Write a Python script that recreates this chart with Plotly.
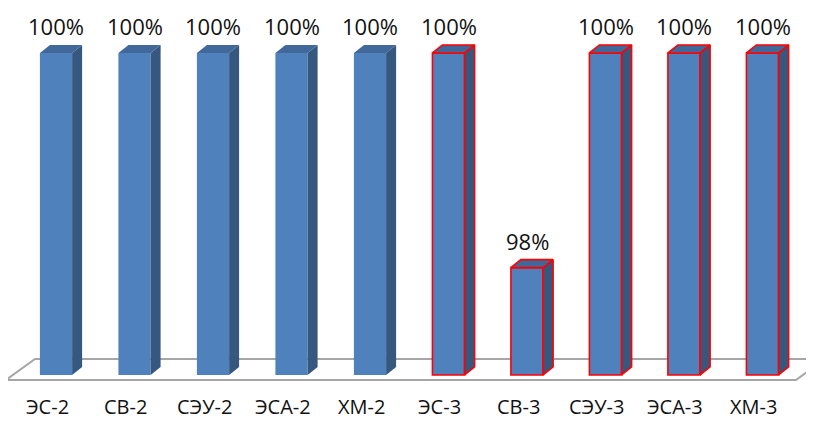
import plotly.graph_objects as go

# dados
categories = ["ЭС-2", "СВ-2", "СЭУ-2", "ЭСА-2", "ХМ-2", "ЭС-3", "СВ-3", "СЭУ-3", "ЭСА-3", "ХМ-3"]
values = [100, 100, 100, 100, 100, 100, 98, 100, 100, 100]
labels = ["100%", "100%", "100%", "100%", "100%", "100%", "98%", "100%", "100%", "100%"]
outlined = [False, False, False, False, False, True, True, True, True, True]

# a página tem margem de 8px no body
W, H = 806, 413
OFF = 8
BASE = 97.0
X_RANGE = [-0.6115, 9.656]
Y_RANGE = [96.571, 100.419]

# escala px -> unidades
ux = (X_RANGE[1] - X_RANGE[0]) / W
uy = (Y_RANGE[1] - Y_RANGE[0]) / H
DX = 10 * ux   # profundidade 3D
DY = 8 * uy
HALF = 0.205

FRONT = "#4F81BD"
SIDE = "#36587F"
TOP = "#41689B"


def px(x, y):
    return (x - OFF) / W, 1 - (y - OFF) / H


fig = go.Figure()

# piso (plano 3D)
pts = [px(6, 380), px(796, 380), px(825, 359), px(35, 359)]
fig.add_shape(type="path", xref="paper", yref="paper",
              path="M " + " L ".join("%f,%f" % p for p in pts) + " Z",
              line=dict(color="#A6A6A6", width=2), fillcolor="white", layer="below")

# frente das barras
fig.add_trace(go.Bar(
    x=list(range(len(values))), y=[v - BASE for v in values], base=BASE,
    width=2 * HALF,
    marker=dict(color=FRONT,
                line=dict(color=["#FF0000" if o else FRONT for o in outlined],
                          width=[1.6 if o else 0 for o in outlined])),
    hoverinfo="skip"))

# faces laterais e topo
for i, (v, o) in enumerate(zip(values, outlined)):
    xl, xr = i - HALF, i + HALF
    line = dict(color="#FF0000", width=1.6) if o else dict(width=0, color=SIDE)
    fig.add_trace(go.Scatter(
        x=[xr, xr + DX, xr + DX, xr, xr], y=[BASE, BASE + DY, v + DY, v, BASE],
        fill="toself", fillcolor=SIDE, mode="lines", line=line, hoverinfo="skip"))
    line = dict(color="#FF0000", width=1.6) if o else dict(width=0, color=TOP)
    fig.add_trace(go.Scatter(
        x=[xl, xl + DX, xr + DX, xr, xl], y=[v, v + DY, v + DY, v, v],
        fill="toself", fillcolor=TOP, mode="lines", line=line, hoverinfo="skip"))

# rótulos de dados
for i, (v, t) in enumerate(zip(values, labels)):
    fig.add_annotation(x=i, y=v, text=t, showarrow=False, yanchor="middle", yshift=27,
                       font=dict(family="Open Sans", size=22, color="#111111"))

# rótulos das categorias
for i, c in enumerate(categories):
    fig.add_annotation(x=i, y=0, yref="paper", text=c, showarrow=False,
                       yanchor="bottom", yshift=-1, xshift=-9,
                       font=dict(family="Open Sans", size=20, color="#111111"))

fig.update_layout(
    width=W, height=H, margin=dict(l=0, r=0, t=0, b=0),
    plot_bgcolor="white", paper_bgcolor="white", showlegend=False,
    xaxis=dict(range=X_RANGE, visible=False, fixedrange=True),
    yaxis=dict(range=Y_RANGE, visible=False, fixedrange=True),
)

fig.write_html("out.html")
